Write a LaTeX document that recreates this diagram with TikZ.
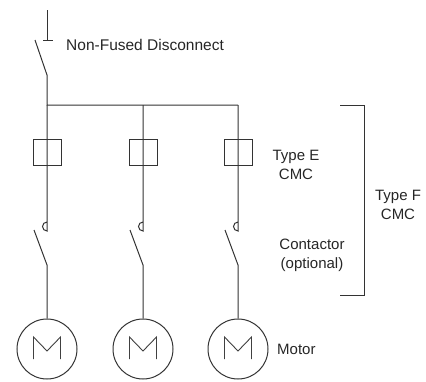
\documentclass[tikz,border=0pt]{standalone}
\usepackage{fontspec}
\setmainfont{Liberation Sans}
\begin{document}
\begin{tikzpicture}[x=1pt,y=-1pt,
  wire/.style={draw=black!80,line width=1pt},
  fusebox/.style={draw=black!80,line width=1pt,minimum width=28pt,minimum height=26pt,inner sep=0pt},
  motor/.style={circle,draw=black!80,line width=1pt,minimum size=60pt,inner sep=0pt},
  mglyph/.style={draw=black!75,line width=0.9pt},
  lbl/.style={font=\fontsize{15}{19}\selectfont,text=black!85,align=center,inner sep=0pt}]
\useasboundingbox (0,0) rectangle (426,381);

% main disconnect
\coordinate (top) at (47,10);
\coordinate (tick) at (47,40);
\coordinate (tickL) at (43,40);
\coordinate (tickR) at (53,40);
\coordinate (bladeA) at (35,40);
\coordinate (bladeB) at (47,75);
\coordinate (bus1) at (47,105);
\coordinate (bus2) at (143,105);
\coordinate (bus3) at (238,105);
\draw[wire] (top) -- (tick);
\draw[wire] (tickL) -- (tickR);
\draw[wire] (bladeA) -- (bladeB) -- (bus1) -- (bus3);

\foreach \i/\x in {1/47,2/143,3/238}{
  \node[fusebox] (f\i) at (\x,152) {};
  \coordinate (h\i) at (\x,231);
  \coordinate (ca\i) at (\x-13,230);
  \coordinate (cb\i) at (\x,265);
  \node[motor] (m\i) at (\x,349) {};
  \draw[wire] (bus\i) -- (f\i.north) -- (f\i.south) -- (h\i) arc[start angle=90,end angle=270,radius=4.5];
  \draw[wire] (ca\i) -- (cb\i) -- (m\i.north);
  \draw[mglyph] ([shift={(-13.5,10)}]m\i.center) -- ++(0,-22) -- ++(13.5,14) -- ++(13.5,-14) -- ++(0,22);
}

% bracket
\coordinate (brA) at (340,105);
\coordinate (brB) at (364,105);
\coordinate (brC) at (364,295);
\coordinate (brD) at (340,295);
\draw[wire] (brA) -- (brB) -- (brC) -- (brD);

% labels
\node[lbl,anchor=west,font=\fontsize{15.5}{19}\selectfont] (lnfd) at (66,45) {Non-Fused Disconnect};
\node[lbl] (lte) at (296,165) {Type E\\CMC};
\node[lbl] (ltf) at (398,205) {Type F\\CMC};
\node[lbl] (lco) at (312,255) {Contactor\\(optional)};
\node[lbl,anchor=west] (lmo) at (277,349) {Motor};
\end{tikzpicture}
\end{document}
